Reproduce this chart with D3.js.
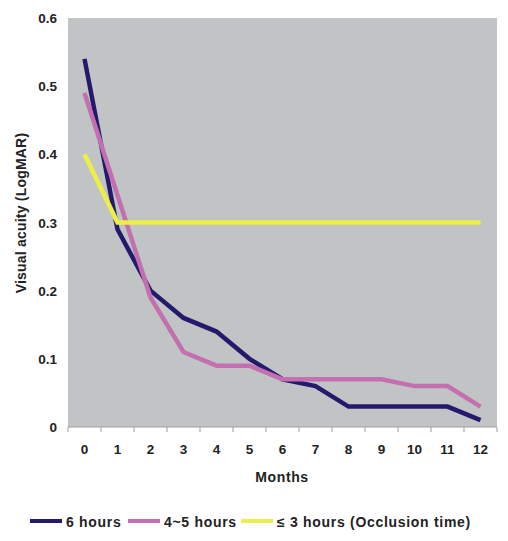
<!DOCTYPE html>
<html><head><meta charset="utf-8">
<script src="https://cdn.jsdelivr.net/npm/d3@7"></script>
<style>body{margin:0;background:#fff;}svg{display:block;font-family:"Liberation Sans",Arial,sans-serif;}</style>
</head><body>
<svg id="c" width="508" height="541"></svg>
<script>
const months = [0,1,2,3,4,5,6,7,8,9,10,11,12];
const sixHours = [0.54,0.29,0.20,0.16,0.14,0.10,0.07,0.06,0.03,0.03,0.03,0.03,0.01];
const fourFiveHours = [0.49,0.34,0.19,0.11,0.09,0.09,0.07,0.07,0.07,0.07,0.06,0.06,0.03];
const threeHours = [0.40,0.30,0.30,0.30,0.30,0.30,0.30,0.30,0.30,0.30,0.30,0.30,0.30];
const yTicks = [0,0.1,0.2,0.3,0.4,0.5,0.6];
const seriesNames = ["6 hours","4~5 hours","\u2264 3 hours (Occlusion time)"];
const colors = ["#231a6e","#c46fb0","#eeee48"];

const svg = d3.select("#c");
const L=68, R=497, T=18, B=427;
const x = d3.scaleBand().domain(months).range([L,R]);
const y = d3.scaleLinear().domain([0,0.6]).range([B,T]);

svg.append("rect").attr("x",L).attr("y",T).attr("width",R-L).attr("height",B-T).attr("fill","#c1c4c4");

// x axis
const xg = svg.append("g").attr("transform",`translate(0,${B})`);
xg.append("line").attr("x1",L).attr("x2",R).attr("stroke","#a0a0a0");
const bounds = months.map(m=>x(m)).concat([R]);
xg.selectAll("line.tk").data(bounds).join("line").attr("class","tk")
  .attr("x1",d=>d).attr("x2",d=>d).attr("y1",0).attr("y2",5).attr("stroke","#a0a0a0");
xg.selectAll("text").data(months).join("text")
  .attr("x",d=>x(d)+x.bandwidth()/2).attr("y",27).attr("text-anchor","middle")
  .attr("font-size",13.5).attr("font-weight","bold").attr("fill","#222").text(d=>d);

// y ticks labels
svg.selectAll("text.yt").data(yTicks).join("text").attr("class","yt")
  .attr("x",57).attr("y",d=>y(d)+5).attr("text-anchor","end")
  .attr("font-size",13.5).attr("font-weight","bold").attr("fill","#222").text(d=>d===0?"0":d.toFixed(1));

// titles
svg.append("text").attr("x",282).attr("y",482).attr("text-anchor","middle")
  .attr("font-size",14).attr("letter-spacing",0.6).attr("font-weight","bold").attr("fill","#222").text("Months");
svg.append("text").attr("transform",`translate(26,213) rotate(-90)`).attr("text-anchor","middle")
  .attr("font-size",14).attr("letter-spacing",0.2).attr("font-weight","bold").attr("fill","#222").text("Visual acuity (LogMAR)");

// lines
const line = d3.line().x((d,i)=>x(months[i])+x.bandwidth()/2).y(d=>y(d));
const all = [sixHours,fourFiveHours,threeHours];
[0,1,2].forEach(i=>{
  svg.append("path").attr("d",line(all[i])).attr("fill","none")
    .attr("stroke",colors[i]).attr("stroke-width",4.5).attr("stroke-linejoin","miter");
});

// legend
const legX = [30,128,241];
const lg = svg.append("g");
seriesNames.forEach((n,i)=>{
  lg.append("rect").attr("x",legX[i]).attr("y",519).attr("width",32).attr("height",4).attr("fill",colors[i]);
  lg.append("text").attr("x",legX[i]+36).attr("y",527).attr("font-size",14).attr("letter-spacing",0.7)
    .attr("font-weight","bold").attr("fill","#222").text(n);
});
</script>
</body></html>
